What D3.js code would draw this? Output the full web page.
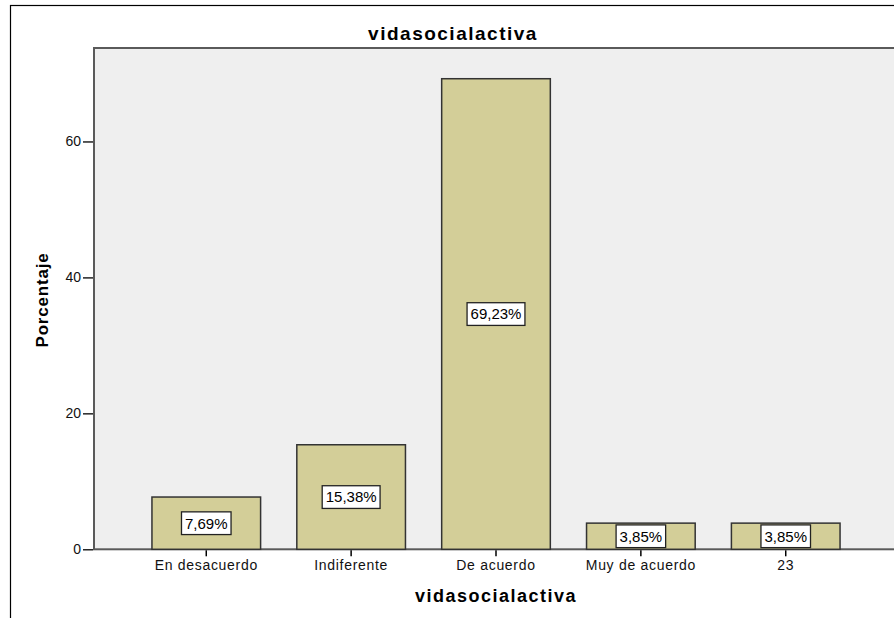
<!DOCTYPE html>
<html>
<head>
<meta charset="utf-8">
<script src="https://cdn.jsdelivr.net/npm/d3@7"></script>
<style>
  html, body { margin: 0; padding: 0; background: #fff; }
  svg { display: block; font-family: "Liberation Sans", Arial, sans-serif; }
</style>
</head>
<body>
<svg id="chart" width="894" height="618"></svg>
<script>
// Frequency data for "vidasocialactiva"
const categories = ["En desacuerdo", "Indiferente", "De acuerdo", "Muy de acuerdo", "23"];
const percentages = [7.69, 15.38, 69.23, 3.85, 3.85];
const valueLabels = ["7,69%", "15,38%", "69,23%", "3,85%", "3,85%"];
const yTicks = [0, 20, 40, 60];

const svg = d3.select("#chart");

// Plot area
const plot = { left: 94, top: 48, right: 898, bottom: 549.3 };

const x = d3.scaleBand()
  .domain(categories)
  .range([plot.left, plot.right])
  .paddingInner(0.25)
  .paddingOuter(0.4);

const y = d3.scaleLinear()
  .domain([0, 73.75])
  .range([plot.bottom, plot.top]);

// Outer frame
svg.append("rect")
  .attr("x", 10.5).attr("y", 5.5)
  .attr("width", 886).attr("height", 640)
  .attr("fill", "none").attr("stroke", "#000").attr("stroke-width", 1.2);

// Plot background
svg.append("rect")
  .attr("x", plot.left).attr("y", plot.top)
  .attr("width", plot.right - plot.left).attr("height", plot.bottom - plot.top)
  .attr("fill", "#efefef")
  .attr("stroke", "#5a5a5a").attr("stroke-width", 2);

// Bars
svg.append("g").selectAll("rect")
  .data(categories)
  .join("rect")
  .attr("x", d => x(d))
  .attr("y", (d, i) => y(percentages[i]))
  .attr("width", x.bandwidth())
  .attr("height", (d, i) => y(0) - y(percentages[i]))
  .attr("fill", "#d3ce98")
  .attr("stroke", "#333")
  .attr("stroke-width", 1.5);

// Value labels in white boxes at the middle of each bar
const labels = svg.append("g").selectAll("g")
  .data(categories)
  .join("g")
  .attr("transform", (d, i) =>
    `translate(${x(d) + x.bandwidth() / 2},${(y(0) + y(percentages[i])) / 2})`);

labels.append("text")
  .attr("text-anchor", "middle")
  .attr("dy", "0.36em")
  .attr("font-size", "15px")
  .attr("fill", "#000")
  .text((d, i) => valueLabels[i]);

labels.each(function () {
  const g = d3.select(this);
  const t = g.select("text").node().getBBox();
  g.insert("rect", "text")
    .attr("x", t.x - 3.5)
    .attr("y", -11.3)
    .attr("width", t.width + 7)
    .attr("height", 22.7)
    .attr("fill", "#fff")
    .attr("stroke", "#222")
    .attr("stroke-width", 1.3);
});

// Y axis
const yAxis = svg.append("g")
  .attr("transform", `translate(${plot.left - 1},0)`)
  .call(d3.axisLeft(y).tickValues(yTicks).tickSize(10).tickPadding(2));
yAxis.select(".domain").remove();
yAxis.selectAll(".tick line").attr("stroke", "#000").attr("stroke-width", 1.3);
yAxis.selectAll(".tick text")
  .attr("font-size", "14px")
  .attr("font-family", "'Liberation Sans', Arial, sans-serif")
  .attr("fill", "#111");

// X axis
const xAxis = svg.append("g")
  .attr("transform", `translate(0,${plot.bottom + 1})`)
  .call(d3.axisBottom(x).tickSize(6).tickPadding(4));
xAxis.select(".domain").remove();
xAxis.selectAll(".tick line").attr("stroke", "#000").attr("stroke-width", 1.5);
xAxis.selectAll(".tick text")
  .attr("font-size", "14px")
  .attr("letter-spacing", "0.7px")
  .attr("font-family", "'Liberation Sans', Arial, sans-serif")
  .attr("fill", "#111");

// Titles
svg.append("text")
  .attr("x", 453).attr("y", 40)
  .attr("text-anchor", "middle")
  .attr("font-size", "19px")
  .attr("font-weight", "bold")
  .attr("letter-spacing", "1.5px")
  .text("vidasocialactiva");

svg.append("text")
  .attr("x", 496).attr("y", 602)
  .attr("text-anchor", "middle")
  .attr("font-size", "18px")
  .attr("font-weight", "bold")
  .attr("letter-spacing", "1.5px")
  .text("vidasocialactiva");

svg.append("text")
  .attr("transform", "translate(48,300) rotate(-90)")
  .attr("text-anchor", "middle")
  .attr("font-size", "17px")
  .attr("font-weight", "bold")
  .attr("letter-spacing", "0.8px")
  .text("Porcentaje");
</script>
</body>
</html>
